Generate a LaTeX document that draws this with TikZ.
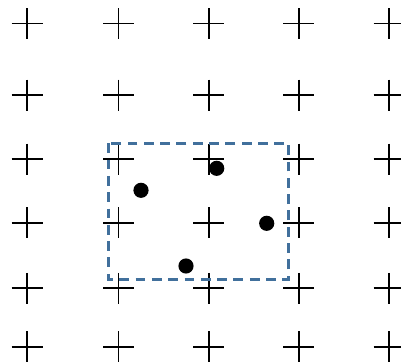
\documentclass[tikz,border=0pt]{standalone}
\usepackage{xcolor}
\usetikzlibrary{positioning}
\definecolor{ink}{HTML}{000000}
\definecolor{sBlue}{HTML}{41709C}
\tikzset{
  grid/.style={ink, line width=1.4pt},
  sample/.style={circle, fill=ink, inner sep=0pt, minimum size=10.8pt},
  window/.style={sBlue, line width=1.8pt, dash pattern=on 7pt off 4.6pt},
}

\begin{document}
\begin{tikzpicture}[x={(0.025cm,0)}, y={(0,-0.025cm)}]
\useasboundingbox (0,0) rectangle (401,362);
% lattice of crosses
\foreach \x in {27,118.5,208.7,298.7,389}
  \foreach \y in {23.5,95,159,222.7,288.3,346.7}
    \draw[grid] (\x-15.5,\y) -- (\x+15.5,\y) (\x,\y-15.5) -- (\x,\y+15.5);
% window
\draw[window] (108.5,143.3) rectangle (288.7,279.3);
% samples
\node[sample] (s1) at (216.7,168.3) {};
\node[sample] (s2) at (141,190.3) {};
\node[sample] (s3) at (266.7,223.3) {};
\node[sample] (s4) at (186,266) {};
\end{tikzpicture}
\end{document}
